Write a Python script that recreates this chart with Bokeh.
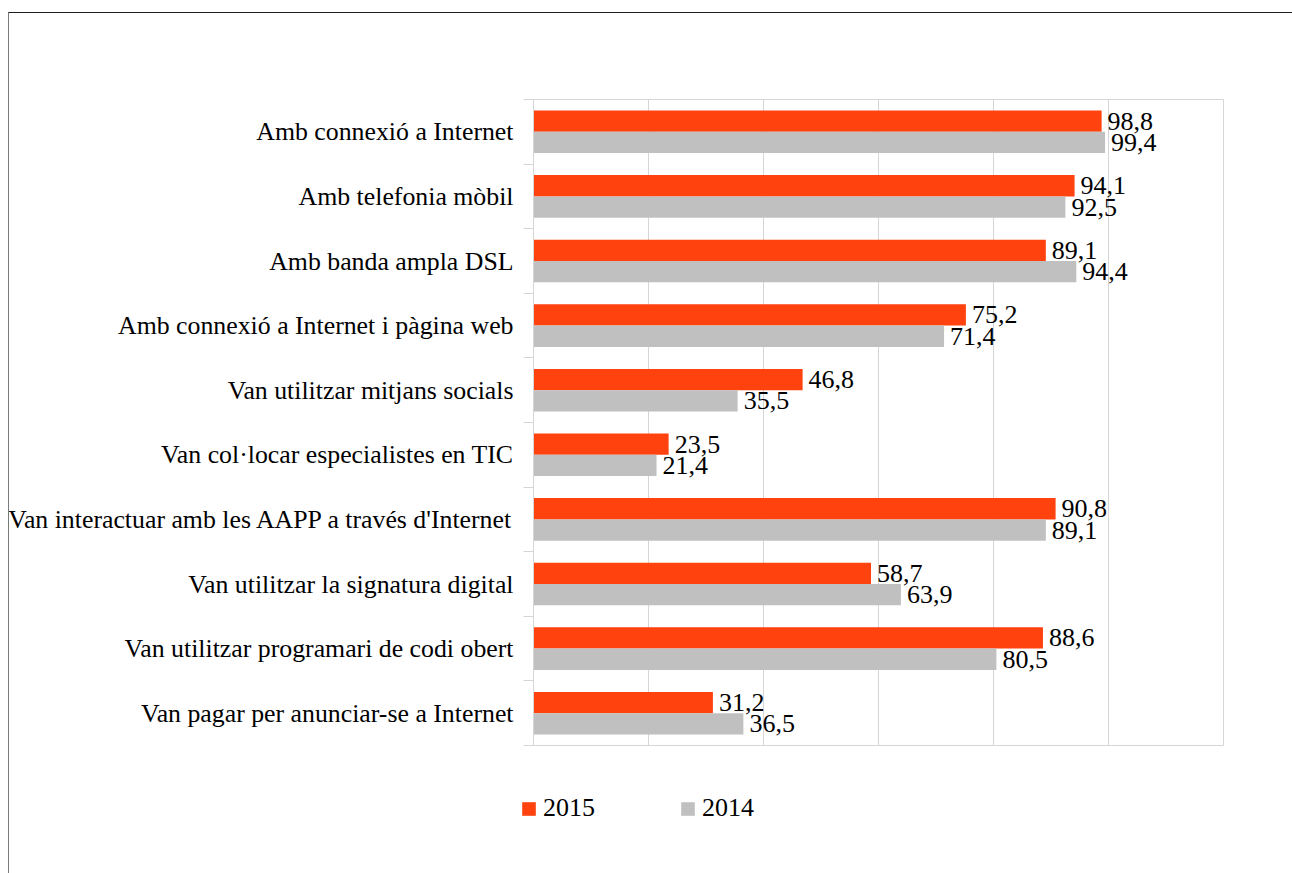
from bokeh.plotting import figure
from bokeh.layouts import column
from bokeh.models import (Range1d, FixedTicker, ColumnDataSource, Legend, LegendItem,
                          InlineStyleSheet)
from bokeh.transform import dodge
from bokeh.core.properties import value
from bokeh.embed import file_html
from bokeh.resources import INLINE

categories = [
    "Amb connexió a Internet",
    "Amb telefonia mòbil",
    "Amb banda ampla DSL",
    "Amb connexió a Internet i pàgina web",
    "Van utilitzar mitjans socials",
    "Van col·locar especialistes en TIC",
    "Van interactuar amb les AAPP a través d'Internet",
    "Van utilitzar la signatura digital",
    "Van utilitzar programari de codi obert",
    "Van pagar per anunciar-se a Internet",
]
values_2015 = [98.8, 94.1, 89.1, 75.2, 46.8, 23.5, 90.8, 58.7, 88.6, 31.2]
values_2014 = [99.4, 92.5, 94.4, 71.4, 35.5, 21.4, 89.1, 63.9, 80.5, 36.5]
series_names = ["2015", "2014"]
x_ticks = [0, 20, 40, 60, 80, 100, 120]

FONT = "Liberation Serif"
RED = "#FF420E"
GRAY = "#C0C0C0"
GRID = "#D6D6D6"

n = len(categories)
pos = list(range(n))
src = ColumnDataSource(dict(
    pos=pos,
    cat=categories,
    v15=values_2015,
    v14=values_2014,
    t15=[f"{v:.1f}".replace(".", ",") for v in values_2015],
    t14=[f"{v:.1f}".replace(".", ",") for v in values_2014],
))

# ---------------- main chart ----------------
p = figure(frame_width=690, frame_height=646,
           x_range=Range1d(x_ticks[0], x_ticks[-1]),
           y_range=Range1d(n - 0.5, -0.5),
           output_backend="svg", toolbar_location=None,
           min_border_left=533, min_border_right=69,
           min_border_top=99, min_border_bottom=25)
p.outline_line_color = GRID
p.background_fill_color = "white"
p.border_fill_color = "white"
p.stylesheets = [InlineStyleSheet(css="""
:host::after {
  content: '';
  position: absolute;
  left: 8px; top: 12px; right: 0; bottom: 0;
  border-left: 1px solid #7a7a7a;
  border-top: 1px solid #1e1e1e;
  pointer-events: none;
}
""")]

bh = 0.33
r15 = p.hbar(y=dodge("pos", -0.165, range=p.y_range), right="v15", left=0, height=bh,
             source=src, fill_color=RED, line_color=None)
r14 = p.hbar(y=dodge("pos", 0.165, range=p.y_range), right="v14", left=0, height=bh,
             source=src, fill_color=GRAY, line_color=None)

p.text(x="v15", y=dodge("pos", -0.165, range=p.y_range), text="t15", source=src,
       x_offset=6, text_baseline="middle", text_align="left",
       text_font=value(FONT), text_font_size="26px", text_color="#000000")
p.text(x="v14", y=dodge("pos", 0.165, range=p.y_range), text="t14", source=src,
       x_offset=6, text_baseline="middle", text_align="left",
       text_font=value(FONT), text_font_size="26px", text_color="#000000")

p.xaxis.visible = False
p.xgrid.grid_line_color = GRID
p.xgrid.ticker = FixedTicker(ticks=x_ticks)

p.yaxis.ticker = FixedTicker(ticks=pos, minor_ticks=[i - 0.5 for i in range(n + 1)])
p.yaxis.major_label_overrides = {i: c for i, c in zip(pos, categories)}
p.yaxis.major_tick_out = 0
p.yaxis.major_tick_in = 0
p.yaxis.minor_tick_out = 10
p.yaxis.minor_tick_in = 0
p.yaxis.minor_tick_line_color = GRID
p.yaxis.axis_line_color = GRID
p.yaxis.major_label_standoff = 10
p.yaxis.major_label_text_font = FONT
p.yaxis.major_label_text_font_size = "25.8px"
p.yaxis.major_label_text_color = "#000000"
p.ygrid.grid_line_color = None

# ---------------- legend strip ----------------
# the series renderers here sit outside this strip's visible x range,
# so only their legend swatches show
lg = figure(frame_width=1292, frame_height=103,
            x_range=Range1d(-2, -1), y_range=Range1d(n - 0.5, -0.5),
            output_backend="svg", toolbar_location=None,
            min_border_left=0, min_border_right=0,
            min_border_top=0, min_border_bottom=0)
lg.xaxis.visible = False
lg.yaxis.visible = False
lg.grid.grid_line_color = None
lg.outline_line_color = None
lg.background_fill_color = "white"
lg.border_fill_color = "white"
lg.stylesheets = [InlineStyleSheet(css="""
:host::after {
  content: '';
  position: absolute;
  left: 8px; top: 0; right: 0; bottom: 0;
  border-left: 1px solid #7a7a7a;
  pointer-events: none;
}
""")]
k15 = lg.hbar(y="pos", right="v15", left=0, height=bh, source=src,
              fill_color=RED, line_color=None)
k14 = lg.hbar(y="pos", right="v14", left=0, height=bh, source=src,
              fill_color=GRAY, line_color=None)

legend = Legend(items=[LegendItem(label=series_names[0], renderers=[k15]),
                       LegendItem(label=series_names[1], renderers=[k14])],
                orientation="horizontal", location=(520, 50),
                border_line_color=None, background_fill_alpha=0,
                padding=0, margin=0, spacing=84, label_standoff=6,
                glyph_width=17, glyph_height=17,
                label_text_font=FONT, label_text_font_size="26px",
                label_text_color="#000000")
lg.add_layout(legend)

layout = column(p, lg, spacing=0)
open("out.html", "w").write(file_html(layout, INLINE))
